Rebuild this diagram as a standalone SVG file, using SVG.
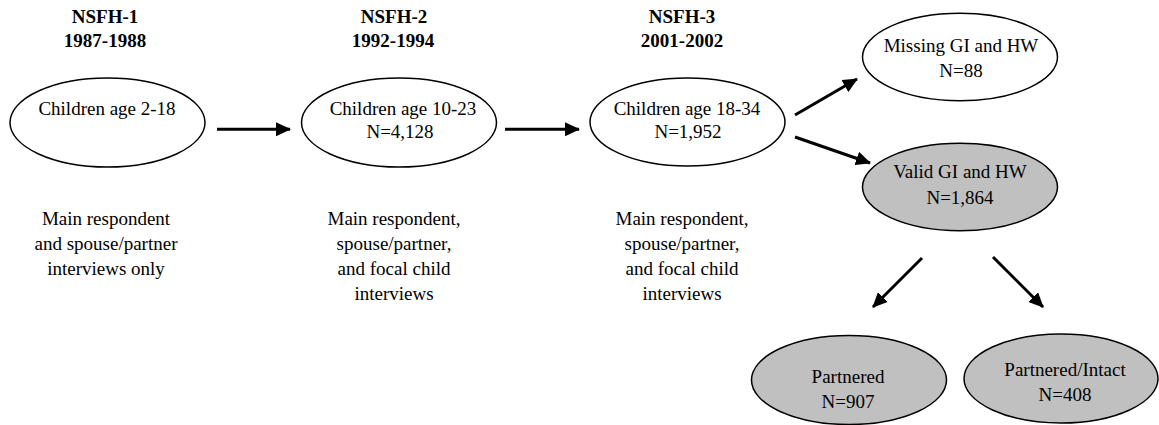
<svg xmlns="http://www.w3.org/2000/svg" width="1159" height="425" viewBox="0 0 1159 425">
<style>
  text { font-family: "Liberation Serif", "Times New Roman", serif; font-size: 19px; fill: #000; text-anchor: middle; }
  .hdr { font-weight: bold; }
  .node ellipse { stroke: #000; stroke-width: 1.5; }
  .white { fill: #fff; }
  .gray { fill: #c0c0c0; }
  .conn line { stroke: #000; stroke-width: 3; }
</style>
<defs>
  <marker id="arr" markerUnits="userSpaceOnUse" markerWidth="16" markerHeight="14" refX="14" refY="7" orient="auto">
    <path d="M0,0 L15,7 L0,14 Z" fill="#000"/>
  </marker>
</defs>
<rect width="1159" height="425" fill="#fff"/>

<g id="headers">
  <text class="hdr" x="105" y="23">NSFH-1</text>
  <text class="hdr" x="105" y="47">1987-1988</text>
  <text class="hdr" x="394" y="23">NSFH-2</text>
  <text class="hdr" x="393" y="47">1992-1994</text>
  <text class="hdr" x="682" y="23">NSFH-3</text>
  <text class="hdr" x="682" y="47">2001-2002</text>
</g>

<g id="n1" class="node">
  <ellipse class="white" cx="107.5" cy="122.5" rx="97.5" ry="44.5"/>
  <text x="107" y="115">Children age 2-18</text>
</g>
<g id="n2" class="node">
  <ellipse class="white" cx="399" cy="122.5" rx="97.5" ry="44.5"/>
  <text x="403" y="115">Children age 10-23</text>
  <text x="400" y="138">N=4,128</text>
</g>
<g id="n3" class="node">
  <ellipse class="white" cx="687.5" cy="122" rx="97.5" ry="44"/>
  <text x="687" y="115">Children age 18-34</text>
  <text x="688" y="138">N=1,952</text>
</g>
<g id="n4" class="node">
  <ellipse class="white" cx="960" cy="57" rx="97.5" ry="43.7"/>
  <text x="961" y="52">Missing GI and HW</text>
  <text x="961" y="77">N=88</text>
</g>
<g id="n5" class="node">
  <ellipse class="gray" cx="960" cy="187" rx="97.5" ry="43.7"/>
  <text x="960" y="178">Valid GI and HW</text>
  <text x="960" y="204">N=1,864</text>
</g>
<g id="n6" class="node">
  <ellipse class="gray" cx="849" cy="380" rx="97.5" ry="44.5"/>
  <text x="848" y="383">Partnered</text>
  <text x="848" y="408">N=907</text>
</g>
<g id="n7" class="node">
  <ellipse class="gray" cx="1061" cy="378.5" rx="97" ry="44.5"/>
  <text x="1065" y="376">Partnered/Intact</text>
  <text x="1065" y="401">N=408</text>
</g>

<g id="notes">
  <text x="106" y="225">Main respondent</text>
  <text x="106" y="250">and spouse/partner</text>
  <text x="106" y="275">interviews only</text>
  <text x="394" y="225">Main respondent,</text>
  <text x="394" y="250">spouse/partner,</text>
  <text x="394" y="275">and focal child</text>
  <text x="394" y="300">interviews</text>
  <text x="682" y="225">Main respondent,</text>
  <text x="682" y="250">spouse/partner,</text>
  <text x="682" y="275">and focal child</text>
  <text x="682" y="300">interviews</text>
</g>

<g id="connectors" class="conn">
  <line x1="217" y1="129.3" x2="290" y2="129.3" marker-end="url(#arr)"/>
  <line x1="505" y1="129.3" x2="579" y2="129.3" marker-end="url(#arr)"/>
  <line x1="795" y1="115" x2="857" y2="79" marker-end="url(#arr)"/>
  <line x1="795" y1="137" x2="870" y2="163" marker-end="url(#arr)"/>
  <line x1="922" y1="258" x2="873" y2="307" marker-end="url(#arr)"/>
  <line x1="993" y1="257" x2="1043" y2="307" marker-end="url(#arr)"/>
</g>
</svg>
